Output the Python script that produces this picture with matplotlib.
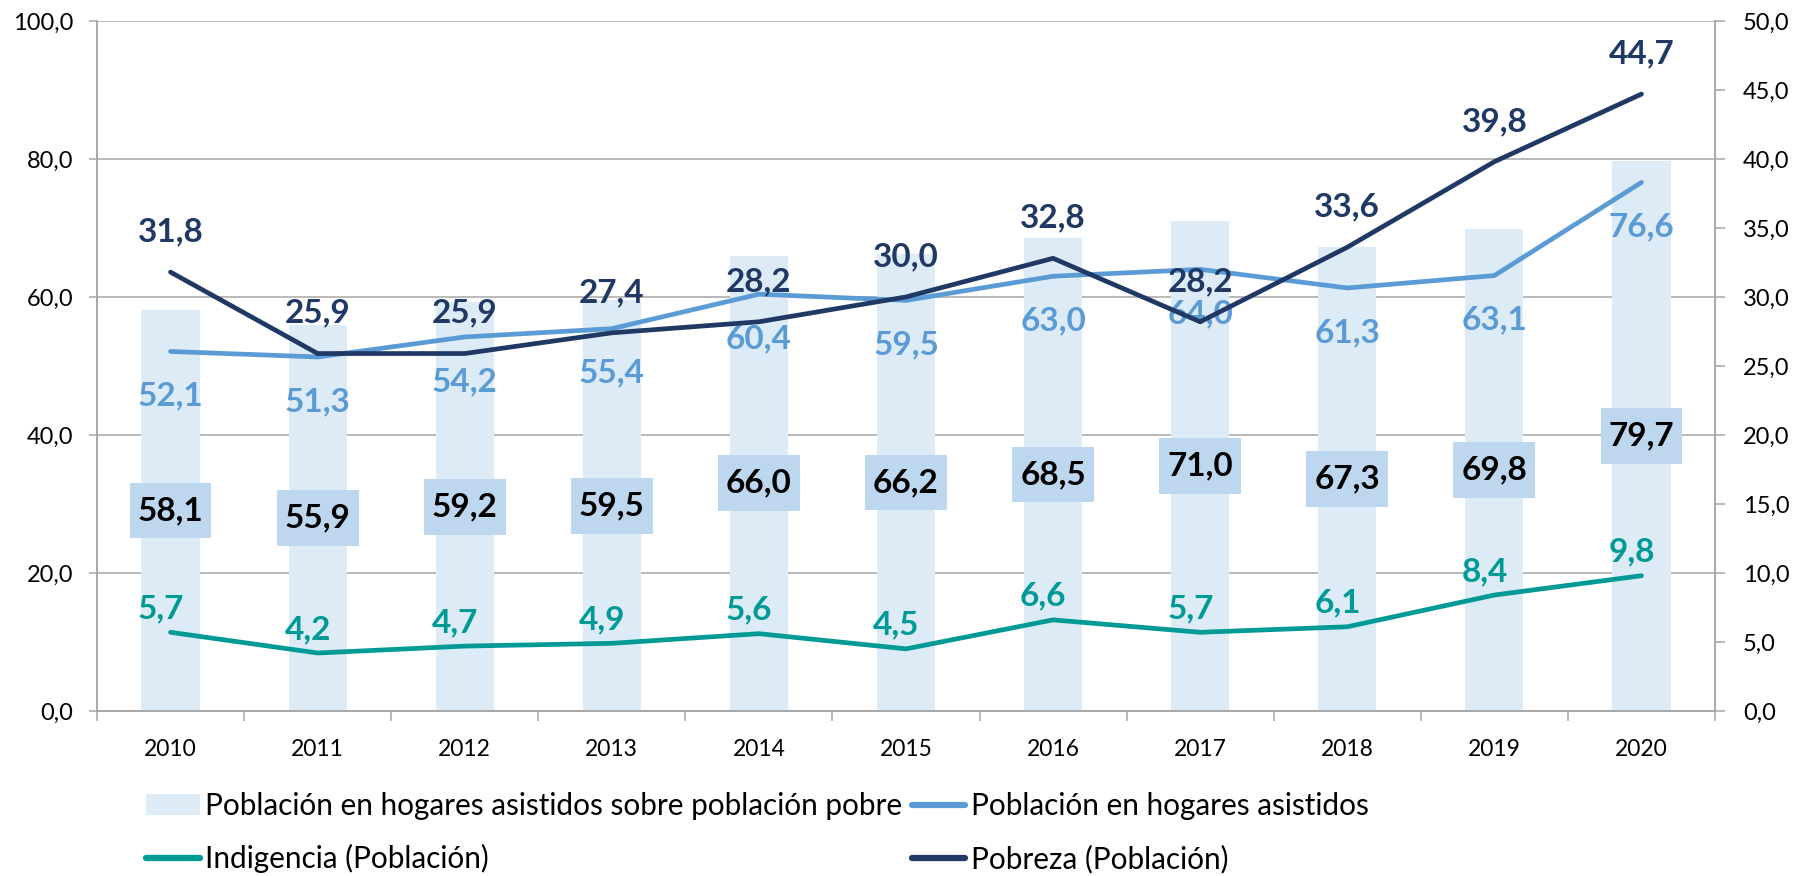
import numpy as np
import matplotlib.pyplot as plt
from matplotlib.path import Path
from matplotlib.lines import Line2D
from matplotlib.patches import Patch

years = ["2010", "2011", "2012", "2013", "2014", "2015", "2016", "2017", "2018", "2019", "2020"]
asistidos_sobre_pobres = [58.1, 55.9, 59.2, 59.5, 66.0, 66.2, 68.5, 71.0, 67.3, 69.8, 79.7]
asistidos = [52.1, 51.3, 54.2, 55.4, 60.4, 59.5, 63.0, 64.0, 61.3, 63.1, 76.6]
indigencia = [5.7, 4.2, 4.7, 4.9, 5.6, 4.5, 6.6, 5.7, 6.1, 8.4, 9.8]
pobreza = [31.8, 25.9, 25.9, 27.4, 28.2, 30.0, 32.8, 28.2, 33.6, 39.8, 44.7]

BAR = "#DDEBF7"
BOX = "#BDD7EE"
LIGHT = "#5B9BD5"
TEAL = "#009A96"
NAVY = "#203864"
GRID = "#A6A6A6"


def fmt(v):
	return f"{v:.1f}".replace(".", ",")


def label_box(x0, y0, width, height, mutation_size):
	# excel style label box: taller padding than wide
	px = 0.24 * mutation_size
	py = 0.40 * mutation_size
	x0, y0 = x0 - px, y0 - py
	x1, y1 = x0 + width + 2 * px, y0 + height + 2 * py
	return Path([(x0, y0), (x1, y0), (x1, y1), (x0, y1), (x0, y0)], closed=True)


plt.rcParams['font.family'] = ['Lato', 'DejaVu Sans']

fig = plt.figure(figsize=(17.96, 8.76), dpi=100)
ax = fig.add_axes([0.054, 0.1884, 0.9009, 0.7877])
ax2 = ax.twinx()

x = np.arange(len(years))

# bars + light blue line on the left axis
ax.bar(x, asistidos_sobre_pobres, width=0.395, color=BAR, zorder=1)
ax.plot(x, asistidos, color=LIGHT, lw=3.4, solid_capstyle='round', zorder=3)

for xi, v in zip(x, asistidos_sobre_pobres):
	ax.text(xi, v / 2, fmt(v), ha='center', va='center', fontsize=24, fontweight='bold',
			color='black', zorder=4,
			bbox=dict(boxstyle=label_box, facecolor=BOX, edgecolor='none'))

for xi, v in zip(x, asistidos):
	ax.annotate(fmt(v), (xi, v), xytext=(0, -32), textcoords='offset points',
				ha='center', va='center', fontsize=24, fontweight='bold', color=LIGHT, zorder=4)

# poverty lines on the right axis
ax2.plot(x, indigencia, color=TEAL, lw=3.4, solid_capstyle='round')
ax2.plot(x, pobreza, color=NAVY, lw=3.4, solid_capstyle='round')

for xi, v in zip(x, indigencia):
	ax2.annotate(fmt(v), (xi, v), xytext=(-7, 17), textcoords='offset points',
				 ha='center', va='center', fontsize=24, fontweight='bold', color=TEAL)

for xi, v in zip(x, pobreza):
	ax2.annotate(fmt(v), (xi, v), xytext=(0, 29), textcoords='offset points',
				 ha='center', va='center', fontsize=24, fontweight='bold', color=NAVY)

ax.set_xlim(-0.5, len(years) - 0.5)
ax.set_ylim(0, 100)
ax2.set_ylim(0, 50)
ax.set_yticks(np.arange(0, 101, 20))
ax2.set_yticks(np.arange(0, 51, 5))
ax.set_yticklabels([fmt(t) for t in np.arange(0, 101, 20)], fontsize=17)
ax2.set_yticklabels([fmt(t) for t in np.arange(0, 51, 5)], fontsize=17)

ax.set_xticks(x)
ax.set_xticklabels(years, fontsize=16.5)
ax.tick_params(axis='x', length=0, pad=20)
ax.set_xticks(np.arange(-0.5, len(years), 1), minor=True)
ax.tick_params(axis='x', which='minor', length=7, color=GRID, width=1.1)
ax.tick_params(axis='y', length=6, color=GRID, width=1.1, pad=11)
ax2.tick_params(axis='y', length=7, color=GRID, width=1.1, pad=13)

ax.yaxis.grid(True, color=GRID, lw=1.1)
ax.set_axisbelow(True)

for a in (ax, ax2):
	a.spines['top'].set_visible(False)
	for s in ('left', 'right', 'bottom'):
		a.spines[s].set_color(GRID)
		a.spines[s].set_linewidth(1.1)

handles = [
	Patch(facecolor=BAR, edgecolor='none'),
	Line2D([], [], color=TEAL, lw=4.5, solid_capstyle='round'),
	Line2D([], [], color=LIGHT, lw=4.5, solid_capstyle='round'),
	Line2D([], [], color=NAVY, lw=4.5, solid_capstyle='round'),
]
labels = [
	"Población en hogares asistidos sobre población pobre",
	"Indigencia (Población)",
	"Población en hogares asistidos",
	"Pobreza (Población)",
]
fig.legend(handles, labels, ncol=2, loc='upper left', bbox_to_anchor=(0.0813, 0.096),
		   frameon=False, fontsize=21.4, handlelength=1.8, handletextpad=0.2,
		   columnspacing=0.3, labelspacing=0.82, borderpad=0, borderaxespad=0)

fig.savefig("out.png", dpi=100)
